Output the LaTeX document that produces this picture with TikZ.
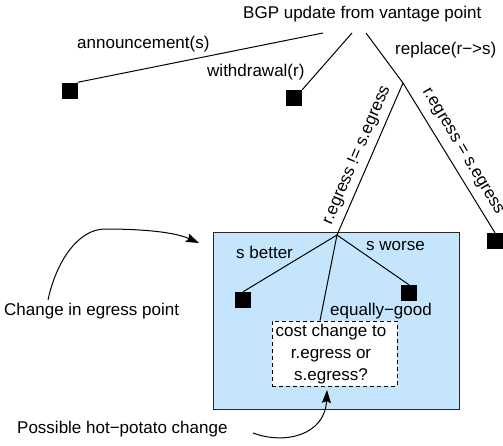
\documentclass[tikz,border=0pt]{standalone}
\usepackage{fontspec}
\setmainfont{Liberation Sans}
\usetikzlibrary{arrows.meta}
\definecolor{boxblue}{RGB}{197,229,252}
\begin{document}
\begin{tikzpicture}[x=1pt,y=-1pt,
  txt/.style={font=\fontsize{17}{20}\selectfont, inner sep=0pt, anchor=base west},
  rlbl/.style={font=\fontsize{17}{20}\selectfont, inner sep=0pt, anchor=center},
  sq/.style={fill=black, minimum size=16pt, inner sep=0pt},
  conn/.style={draw=black, line width=1pt},
  arr/.style={draw=black, line width=1pt, -{Stealth[length=13pt,width=9pt,inset=2pt]}}]
\useasboundingbox (0,0) rectangle (503,445);

% shaded area
\node[draw=black!85, fill=boxblue, line width=0.8pt, minimum width=246pt, minimum height=177pt, inner sep=0pt] (area) at (336,320.5) {};

% texts
\node[txt] (title) at (243,18) {BGP update from vantage point};
\node[txt] (ann) at (77,48) {announcement(s)};
\node[txt] (wd) at (207,76.5) {withdrawal(r)};
\node[txt] (rep) at (395,54) {replace(r−>s)};
\node[txt] (sbet) at (236,258) {s better};
\node[txt] (swor) at (366,250) {s worse};
\node[txt] (eqg) at (330,315) {equally−good};
\node[txt] (chg) at (4,315) {Change in egress point};
\node[txt] (hot) at (17,433) {Possible hot−potato change};
\node[rlbl, rotate=66.8] (lblL) at (357,155) {r.egress != s.egress};
\node[rlbl, rotate=-59] (lblR) at (462,152) {r.egress = s.egress};

% squares
\node[sq] (sq1) at (69.5,90.5) {};
\node[sq] (sq2) at (294,98) {};
\node[sq] (sq3) at (495,241) {};
\node[sq] (sq4) at (243,300) {};
\node[sq] (sq5) at (409,293) {};

% dashed box
\node[draw=black, fill=white, dash pattern=on 4pt off 3pt, line width=0.8pt, minimum width=125pt, minimum height=65pt, inner sep=0pt] (cbox) at (334.5,353.5) {};
\node[font=\fontsize{17}{21.7}\selectfont, align=center, inner sep=0pt] (ctext) at (331,354) {cost change to\\r.egress or\\s.egress?};

% branch points
\coordinate (t1) at (323,33);
\coordinate (t2) at (352,33);
\coordinate (t3) at (366,33);
\coordinate (br) at (403,83);
\coordinate (b2) at (337,235);

% connectors
\draw[conn] (t1) -- (sq1.north east);
\draw[conn] (t2) -- (sq2.north east);
\draw[conn] (t3) -- (br);
\draw[conn] (br) -- (b2);
\draw[conn] (br) -- (sq3.north);
\draw[conn] (b2) -- (sq4.north);
\draw[conn] (b2) -- (sq5.north);
\draw[conn] (b2) -- ([xshift=-14.5pt]cbox.north);

% annotation arrows
\coordinate (a1s) at (48,300);
\coordinate (a1e) at (199,243);
\coordinate (a2s) at (253,433);
\coordinate (a2e) at (327,390);
\draw[arr] (a1s) .. controls (56,262) and (78,229) .. (105,229) .. controls (135,229) and (172,231) .. (a1e);
\draw[arr] (a2s) .. controls (285,445) and (325,435) .. (a2e);
\end{tikzpicture}
\end{document}
